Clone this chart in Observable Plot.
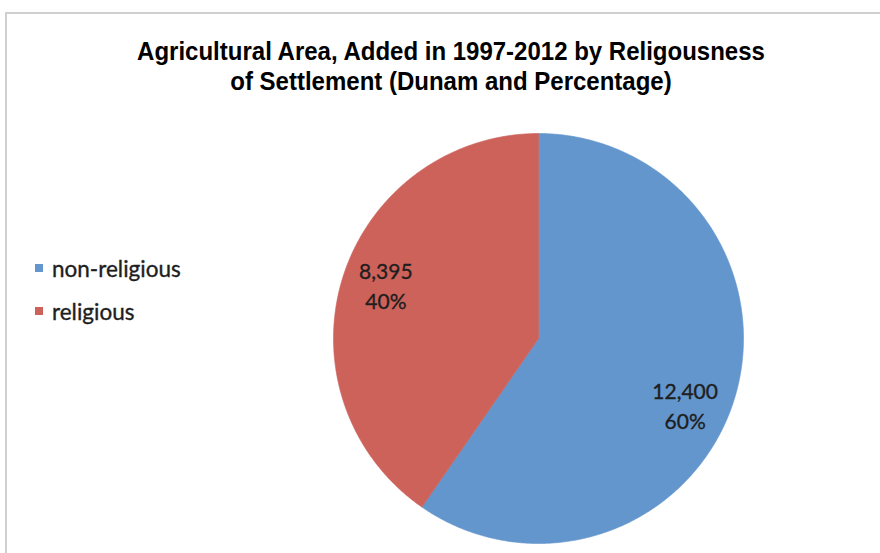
<!DOCTYPE html>
<html><head><meta charset="utf-8">
<script src="https://cdn.jsdelivr.net/npm/d3@7"></script>
<script src="https://cdn.jsdelivr.net/npm/@observablehq/plot@0.6"></script>
<style>
body{margin:0;background:#fff;}
#wrap{position:relative;width:880px;height:553px;overflow:hidden;font-family:Lato,sans-serif;background:#fff;}
#frame{position:absolute;left:5px;top:12px;width:900px;height:600px;border:2px solid #d0d0d0;box-sizing:border-box;}
#title{position:absolute;left:0;top:36px;width:902px;text-align:center;font:bold 24px "Liberation Sans",Arial,sans-serif;line-height:27px;color:#000;transform:scale(1,1.1);transform-origin:0 0;}
#chart{position:absolute;left:0;top:0;}
#legend{position:absolute;left:35px;top:253px;font-size:22.5px;color:#1e1e1e;-webkit-text-stroke:0.35px #1e1e1e;}
.item{display:flex;align-items:center;height:30px;margin-bottom:13px;}
.sw{width:8px;height:8px;margin-right:9px;-webkit-text-stroke:0;}
</style></head>
<body>
<div id="wrap">
  <div id="frame"></div>
  <div id="chart"></div>
  <div id="title">Agricultural Area, Added in 1997-2012 by Religousness<br>of Settlement (Dunam and Percentage)</div>
  <div id="legend"></div>
</div>
<script>
const categories = ["non-religious", "religious"];
const values = [12400, 8395];
const percentLabels = ["60%", "40%"];
const colors = ["#6396CC", "#CD625B"];

const data = categories.map((c, i) => ({cat: c, value: values[i], pct: percentLabels[i]}));
const arcs = d3.pie().sort(null).value(d => d.value)(data);

// polygon outline of each slice, computed from the pie angles
const pts = [];
for (const a of arcs) {
  pts.push({cat: a.data.cat, x: 0, y: 0});
  const n = Math.ceil((a.endAngle - a.startAngle) / (Math.PI / 360));
  for (let k = 0; k <= n; k++) {
    const t = a.startAngle + (a.endAngle - a.startAngle) * k / n;
    pts.push({cat: a.data.cat, x: Math.sin(t), y: Math.cos(t)});
  }
  pts.push({cat: a.data.cat, x: 0, y: 0});
}
const labelR = 0.78;
const labels = arcs.map(a => {
  const m = (a.startAngle + a.endAngle) / 2;
  return {cat: a.data.cat, x: labelR * Math.sin(m), y: labelR * Math.cos(m),
          text: d3.format(",")(a.data.value) + "\n" + a.data.pct};
});

const textStyle = {x: "x", y: "y", text: "text", fontSize: 21, lineHeight: 1.43, fill: "#1e1e1e", stroke: "#1e1e1e", strokeWidth: 0.35, fontFamily: "Lato"};
const chart = Plot.plot({
  width: 880, height: 553, margin: 0,
  style: {background: "transparent", overflow: "visible"},
  x: {domain: [-1, 1], range: [333, 743], axis: null},
  y: {domain: [-1, 1], range: [543, 133], axis: null},
  color: {domain: categories, range: colors},
  marks: [
    Plot.line(pts, {x: "x", y: "y", z: "cat", fill: "cat", stroke: "cat", strokeWidth: 0.6, curve: "linear"}),
    Plot.text(labels.filter(d => d.cat === "religious"), {...textStyle, dy: -6}),
    Plot.text(labels.filter(d => d.cat === "non-religious"), {...textStyle, dx: -6, dy: 18})
  ]
});
document.getElementById("chart").appendChild(chart);

const legend = document.getElementById("legend");
categories.forEach((c, i) => {
  const it = document.createElement("div");
  it.className = "item";
  it.innerHTML = `<span class="sw" style="background:${colors[i]}"></span><span>${c}</span>`;
  legend.appendChild(it);
});
</script>
</body></html>
